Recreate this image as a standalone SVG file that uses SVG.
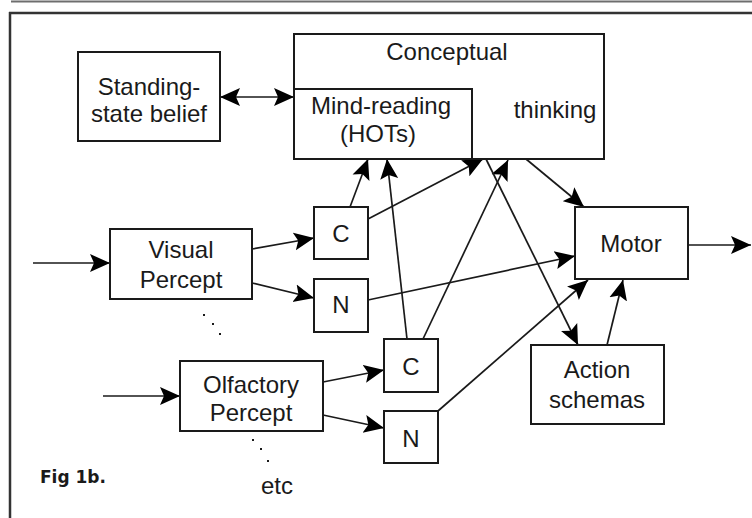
<svg xmlns="http://www.w3.org/2000/svg" width="752" height="518" viewBox="0 0 752 518">
  <defs>
    <style>
      .box { fill: #ffffff; stroke: #1a1a1a; stroke-width: 2; }
      .lbl { font-family: "Liberation Sans", Arial, sans-serif; font-size: 24px; fill: #1a1a1a; text-anchor: middle; }
      .wire { fill: none; stroke: #1a1a1a; stroke-width: 1.7; }
      .arr { marker-end: url(#head); }
      .dot { fill: #1a1a1a; }
    </style>
    <marker id="head" markerUnits="userSpaceOnUse" markerWidth="22" markerHeight="20" refX="20" refY="10" orient="auto-start-reverse">
      <path d="M0,1 L20,10 L0,19 L4,10 z" fill="#000000"/>
    </marker>
  </defs>

  <rect x="0" y="0" width="752" height="518" fill="#ffffff"/>

  <!-- page rules and frame -->
  <line x1="11" y1="1.5" x2="752" y2="1.5" stroke="#6e6e6e" stroke-width="2"/>
  <line x1="9" y1="13" x2="752" y2="13" stroke="#333333" stroke-width="2.5"/>
  <line x1="10" y1="12" x2="10" y2="518" stroke="#333333" stroke-width="2.5"/>

  <!-- connectors (drawn beneath the boxes) -->
  <g id="connectors">
    <line class="wire" x1="220" y1="97" x2="294" y2="97" marker-start="url(#head)" marker-end="url(#head)"/>
    <line class="wire arr" x1="33" y1="263" x2="110" y2="263"/>
    <line class="wire arr" x1="103" y1="396" x2="180" y2="396"/>
    <line class="wire arr" x1="252" y1="249" x2="314" y2="238"/>
    <line class="wire arr" x1="252" y1="283" x2="314" y2="298"/>
    <line class="wire arr" x1="323" y1="382" x2="384" y2="370"/>
    <line class="wire arr" x1="323" y1="415" x2="384" y2="428"/>
    <line class="wire arr" x1="350" y1="207" x2="368" y2="159"/>
    <line class="wire arr" x1="407" y1="339" x2="387" y2="159"/>
    <line class="wire arr" x1="368" y1="219" x2="483" y2="159"/>
    <line class="wire arr" x1="423" y1="339" x2="508" y2="160"/>
    <line class="wire arr" x1="486" y1="159" x2="578" y2="345"/>
    <line class="wire arr" x1="526" y1="159" x2="584" y2="207"/>
    <line class="wire arr" x1="368" y1="300" x2="575" y2="256"/>
    <line class="wire arr" x1="438" y1="411" x2="588" y2="280"/>
    <line class="wire arr" x1="607" y1="345" x2="623" y2="280"/>
    <line class="wire arr" x1="688" y1="245" x2="751" y2="245"/>
  </g>

  <g id="standing-state-belief">
    <rect class="box" x="78" y="52" width="142" height="89"/>
    <text class="lbl" x="149" y="95">Standing-</text>
    <text class="lbl" x="149" y="122">state belief</text>
  </g>

  <g id="conceptual-thinking">
    <rect class="box" x="294" y="34" width="310" height="125"/>
    <text class="lbl" x="447" y="60">Conceptual</text>
    <text class="lbl" x="555" y="118">thinking</text>
  </g>

  <g id="mind-reading">
    <rect class="box" x="294" y="89" width="178" height="70"/>
    <text class="lbl" x="381" y="114">Mind-reading</text>
    <text class="lbl" x="378" y="142">(HOTs)</text>
  </g>

  <g id="visual-percept">
    <rect class="box" x="110" y="229" width="142" height="70"/>
    <text class="lbl" x="181" y="258">Visual</text>
    <text class="lbl" x="181" y="288">Percept</text>
  </g>

  <g id="visual-c">
    <rect class="box" x="314" y="207" width="54" height="52"/>
    <text class="lbl" x="341" y="242">C</text>
  </g>

  <g id="visual-n">
    <rect class="box" x="314" y="279" width="54" height="53"/>
    <text class="lbl" x="341" y="313">N</text>
  </g>

  <g id="olfactory-percept">
    <rect class="box" x="180" y="361" width="143" height="70"/>
    <text class="lbl" x="251" y="393">Olfactory</text>
    <text class="lbl" x="251" y="421">Percept</text>
  </g>

  <g id="olfactory-c">
    <rect class="box" x="384" y="339" width="54" height="53"/>
    <text class="lbl" x="411" y="375">C</text>
  </g>

  <g id="olfactory-n">
    <rect class="box" x="384" y="411" width="54" height="52"/>
    <text class="lbl" x="411" y="447">N</text>
  </g>

  <g id="motor">
    <rect class="box" x="575" y="207" width="113" height="72"/>
    <text class="lbl" x="631" y="252">Motor</text>
  </g>

  <g id="action-schemas">
    <rect class="box" x="531" y="345" width="133" height="79"/>
    <text class="lbl" x="597" y="378">Action</text>
    <text class="lbl" x="597" y="408">schemas</text>
  </g>

  <!-- ellipsis dots below the percept boxes -->
  <g id="ellipses">
    <rect class="dot" x="203" y="314" width="2" height="2"/>
    <rect class="dot" x="212" y="323" width="2" height="2"/>
    <rect class="dot" x="219" y="333" width="2" height="2"/>
    <rect class="dot" x="252" y="439" width="2" height="2"/>
    <rect class="dot" x="260" y="448" width="2" height="2"/>
    <rect class="dot" x="267" y="460" width="2" height="2"/>
  </g>

  <text class="lbl" x="277" y="494">etc</text>
  <text x="40" y="483" font-family="'DejaVu Sans', Verdana, sans-serif" font-weight="bold" font-size="17" fill="#1a1a1a">Fig 1b.</text>
</svg>
